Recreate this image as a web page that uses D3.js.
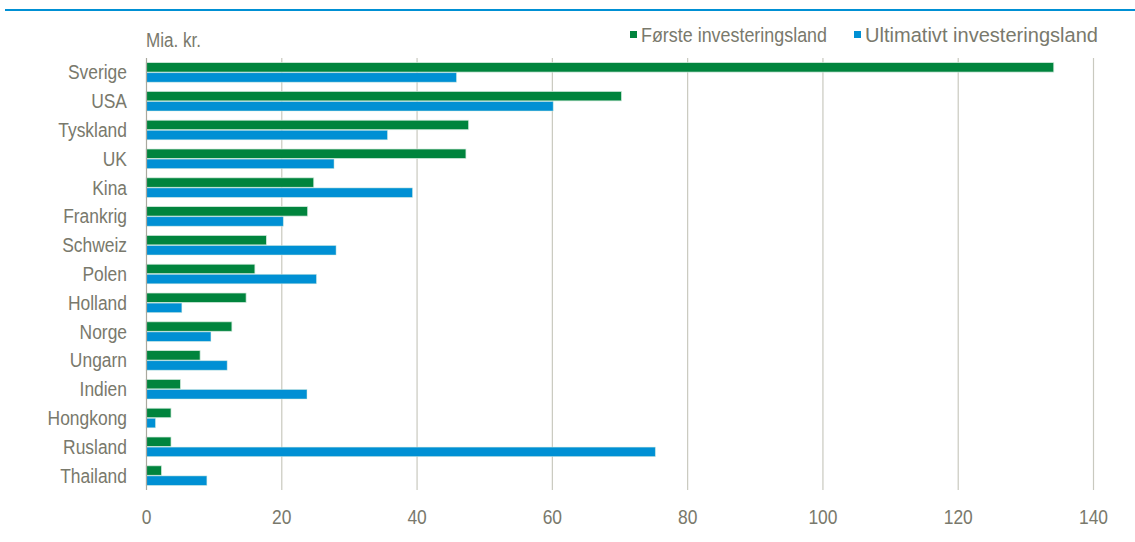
<!DOCTYPE html>
<html>
<head>
<meta charset="utf-8">
<script src="https://cdn.jsdelivr.net/npm/d3@7/dist/d3.min.js"></script>
<style>
  html, body { margin: 0; padding: 0; background: #fff; }
  svg { display: block; }
  text { font-family: "Liberation Sans", Arial, sans-serif; fill: #79796c; }
</style>
</head>
<body>
<svg id="chart" width="1135" height="542"></svg>
<script>
// Direct investments by country, billions of DKK
const countries = ["Sverige", "USA", "Tyskland", "UK", "Kina", "Frankrig", "Schweiz", "Polen",
                   "Holland", "Norge", "Ungarn", "Indien", "Hongkong", "Rusland", "Thailand"];
const firstCountry = [134.2, 70.3, 47.7, 47.3, 24.8, 23.9, 17.8, 16.1, 14.8, 12.7, 8.0, 5.1, 3.7, 3.7, 2.3];
const ultimateCountry = [45.9, 60.2, 35.7, 27.8, 39.4, 20.3, 28.1, 25.2, 5.3, 9.6, 12.0, 23.8, 1.4, 75.3, 9.0];
const seriesNames = ["Første investeringsland", "Ultimativt investeringsland"];
const xTicks = [0, 20, 40, 60, 80, 100, 120, 140];
const unitLabel = "Mia. kr.";

const colors = ["#00843d", "#0090d4"];
const gridColor = "#c9c9bf";
const textColor = "#79796c";
const fontSize = 21;
const narrow = 0.83;   // horizontal squeeze to get a condensed face

const svg = d3.select("#chart");
const plot = { left: 146, right: 1093, top: 58, bottom: 490 };

const x = d3.scaleLinear().domain([0, 140]).range([plot.left, plot.right]);
const y = d3.scaleBand().domain(countries).range([plot.top, plot.bottom]).paddingInner(0.32).paddingOuter(0.16);
const sub = d3.scaleBand().domain([0, 1]).range([0, y.bandwidth()]).paddingInner(0.06);

// Header label fitted to a given width, condensed via textLength
function fittedText(sel, px, py, str, size, width) {
  return sel.append("text")
    .attr("x", px).attr("y", py)
    .attr("font-size", size)
    .attr("textLength", width).attr("lengthAdjust", "spacingAndGlyphs")
    .attr("fill", textColor).text(str);
}

// Blue rule under the header
svg.append("rect").attr("x", 5).attr("y", 9).attr("width", 1130).attr("height", 2).attr("fill", "#0090d4");

// Vertical gridlines
svg.append("g").selectAll("line").data(xTicks.filter(d => d > 0)).join("line")
  .attr("x1", d => x(d) + 0.5).attr("x2", d => x(d) + 0.5)
  .attr("y1", plot.top).attr("y2", plot.bottom)
  .attr("stroke", gridColor).attr("stroke-width", 1.2);

// Bars
const series = [firstCountry, ultimateCountry];
series.forEach((vals, si) => {
  svg.append("g").selectAll("rect").data(countries).join("rect")
    .attr("x", x(0))
    .attr("y", d => y(d) + sub(si))
    .attr("width", (d, i) => x(vals[i]) - x(0))
    .attr("height", sub.bandwidth())
    .attr("fill", colors[si])
    .attr("stroke", "#d6ece0")
    .attr("stroke-opacity", si === 0 ? 0.9 : 0.6)
    .attr("stroke-width", 0.8);
});

// Value axis line at zero
svg.append("line").attr("x1", x(0) + 0.5).attr("x2", x(0) + 0.5)
  .attr("y1", plot.top).attr("y2", plot.bottom)
  .attr("stroke", "#a9a99e").attr("stroke-width", 1.2);

// Category labels
const yAxis = d3.axisLeft(y).tickSize(0).tickPadding(19);
const yg = svg.append("g").attr("transform", `translate(${plot.left},0)`).call(yAxis);
yg.select(".domain").remove();
yg.selectAll("text")
  .attr("x", 0).attr("dy", "0.33em")
  .attr("transform", `translate(-19,0) scale(${narrow},1)`)
  .attr("font-size", fontSize).attr("fill", textColor).attr("font-family", null);

// Tick labels along the bottom
const xAxis = d3.axisBottom(x).tickValues(xTicks).tickSize(0).tickPadding(17);
const xg = svg.append("g").attr("transform", `translate(0,${plot.bottom + 2})`).call(xAxis);
xg.select(".domain").remove();
xg.selectAll("text")
  .attr("transform", `scale(${narrow},1)`)
  .attr("font-size", fontSize).attr("fill", textColor).attr("font-family", null);

// Unit label
fittedText(svg, plot.left, 47, unitLabel, 20, 55);

// Legend
const legendX = [630, 854];
const legendWidth = [186, 233];
seriesNames.forEach((name, i) => {
  svg.append("rect").attr("x", legendX[i]).attr("y", 31).attr("width", 7).attr("height", 7).attr("fill", colors[i]);
  fittedText(svg, legendX[i] + 11, 42, name, 20.5, legendWidth[i]);
});
</script>
</body>
</html>
